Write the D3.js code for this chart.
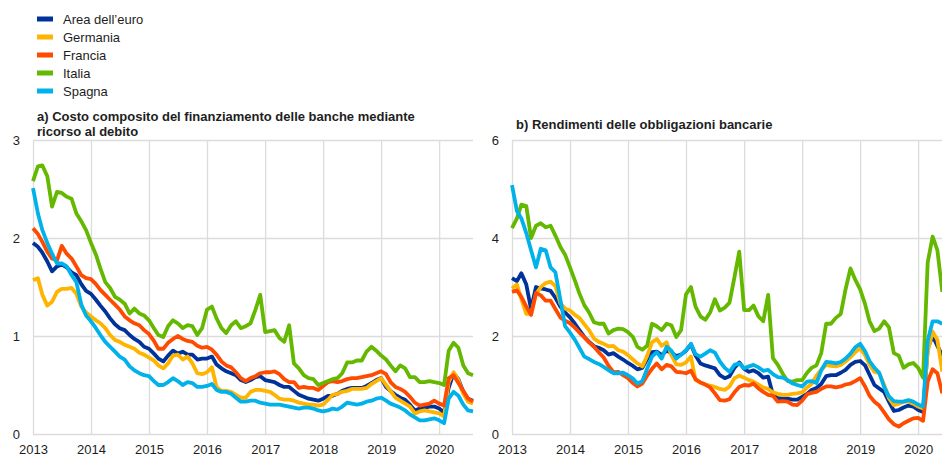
<!DOCTYPE html>
<html>
<head>
<meta charset="utf-8">
<script src="https://cdn.jsdelivr.net/npm/d3@7"></script>
<style>
  body { margin: 0; background: #fff; overflow: hidden; }
  svg { display: block; font-family: "Liberation Sans", Arial, sans-serif; }
</style>
</head>
<body>
<div id="chart"></div>
<script>
// series names / colours (legend order = drawing order)
var seriesNames = ["Area dell\u2019euro", "Germania", "Francia", "Italia", "Spagna"];
var seriesColors = ["#003299", "#ffb400", "#ff4b00", "#65b800", "#00b1ea"];
var yearTicks = [2013, 2014, 2015, 2016, 2017, 2018, 2019, 2020];
var ticksA = [0, 1, 2, 3];
var ticksB = [0, 2, 4, 6];
var titleA = ["a) Costo composito del finanziamento delle banche mediante", "ricorso al debito"];
var titleB = ["b) Rendimenti delle obbligazioni bancarie"];

// a) monthly, Jan 2013 - Aug 2020
var costoEuro = [1.95,1.91,1.85,1.76,1.66,1.71,1.73,1.70,1.65,1.62,1.53,1.46,
  1.43,1.37,1.31,1.25,1.18,1.12,1.08,1.06,1.01,0.97,0.94,0.89,
  0.87,0.82,0.77,0.74,0.80,0.85,0.82,0.84,0.81,0.81,0.76,0.77,
  0.77,0.79,0.71,0.67,0.64,0.62,0.60,0.55,0.53,0.55,0.58,0.59,
  0.55,0.54,0.53,0.50,0.48,0.48,0.44,0.40,0.38,0.36,0.35,0.34,
  0.36,0.39,0.39,0.41,0.44,0.46,0.47,0.47,0.47,0.49,0.52,0.55,
  0.57,0.48,0.44,0.40,0.37,0.35,0.30,0.24,0.26,0.27,0.28,0.28,
  0.26,0.22,0.47,0.62,0.56,0.43,0.36,0.34];
var costoGermania = [1.57,1.59,1.42,1.31,1.35,1.45,1.48,1.48,1.49,1.43,1.30,1.24,
  1.20,1.16,1.13,1.08,1.01,0.96,0.94,0.91,0.89,0.87,0.83,0.81,
  0.78,0.75,0.70,0.67,0.72,0.80,0.81,0.76,0.79,0.72,0.62,0.61,
  0.63,0.68,0.48,0.44,0.44,0.43,0.40,0.37,0.37,0.43,0.45,0.45,
  0.44,0.43,0.40,0.36,0.35,0.35,0.34,0.32,0.31,0.30,0.30,0.29,
  0.30,0.35,0.40,0.41,0.43,0.44,0.46,0.46,0.46,0.47,0.51,0.54,
  0.57,0.50,0.44,0.37,0.34,0.31,0.28,0.21,0.23,0.24,0.23,0.22,
  0.21,0.18,0.53,0.63,0.55,0.41,0.33,0.31];
var costoFrancia = [2.10,2.04,1.96,1.86,1.79,1.77,1.92,1.84,1.79,1.71,1.62,1.59,
  1.58,1.53,1.47,1.42,1.37,1.32,1.27,1.20,1.16,1.13,1.11,1.06,
  1.02,0.95,0.87,0.87,0.93,0.97,1.00,0.97,0.95,0.94,0.90,0.88,
  0.89,0.86,0.81,0.74,0.70,0.68,0.63,0.57,0.54,0.57,0.59,0.62,
  0.63,0.63,0.64,0.61,0.56,0.53,0.53,0.47,0.48,0.47,0.47,0.45,
  0.49,0.53,0.54,0.53,0.54,0.56,0.57,0.57,0.58,0.59,0.60,0.62,
  0.64,0.61,0.53,0.48,0.46,0.43,0.38,0.32,0.29,0.30,0.31,0.34,
  0.31,0.29,0.57,0.60,0.52,0.44,0.36,0.33];
var costoItalia = [2.58,2.73,2.74,2.63,2.32,2.47,2.46,2.42,2.40,2.25,2.17,2.08,
  1.95,1.83,1.69,1.55,1.49,1.40,1.37,1.33,1.23,1.28,1.23,1.21,
  1.16,1.08,1.01,0.99,1.10,1.16,1.13,1.08,1.11,1.10,1.01,1.08,
  1.27,1.30,1.18,1.08,1.03,1.11,1.15,1.08,1.10,1.13,1.27,1.42,
  1.04,1.05,1.06,0.98,0.94,1.11,0.72,0.67,0.60,0.57,0.56,0.50,
  0.52,0.54,0.56,0.57,0.62,0.73,0.73,0.75,0.75,0.84,0.89,0.85,
  0.80,0.76,0.70,0.64,0.70,0.67,0.58,0.58,0.53,0.53,0.54,0.53,
  0.52,0.50,0.85,0.93,0.88,0.70,0.62,0.60];
var costoSpagna = [2.51,2.25,2.08,1.95,1.84,1.74,1.74,1.71,1.62,1.55,1.32,1.21,
  1.15,1.08,1.01,0.94,0.89,0.84,0.79,0.76,0.69,0.65,0.62,0.60,
  0.59,0.54,0.50,0.50,0.53,0.57,0.54,0.50,0.53,0.52,0.48,0.48,
  0.49,0.51,0.45,0.43,0.43,0.41,0.37,0.33,0.33,0.34,0.34,0.32,
  0.31,0.30,0.30,0.30,0.29,0.28,0.27,0.26,0.27,0.27,0.26,0.24,
  0.23,0.24,0.26,0.25,0.28,0.32,0.31,0.30,0.31,0.33,0.34,0.36,
  0.37,0.34,0.31,0.29,0.27,0.24,0.20,0.17,0.14,0.14,0.15,0.16,
  0.14,0.11,0.36,0.43,0.39,0.30,0.24,0.23];

// b) monthly, Jan 2013 onwards (cut at right edge)
var rendEuro = [3.18,3.12,3.28,3.05,2.55,3.00,2.97,2.95,2.92,2.78,2.60,2.48,
  2.38,2.25,2.12,1.98,1.88,1.79,1.76,1.71,1.62,1.65,1.58,1.52,
  1.45,1.39,1.32,1.35,1.53,1.67,1.68,1.61,1.70,1.66,1.59,1.62,
  1.70,1.83,1.60,1.44,1.40,1.37,1.34,1.20,1.14,1.18,1.35,1.46,
  1.33,1.27,1.30,1.24,1.15,1.17,0.80,0.73,0.72,0.72,0.70,0.70,
  0.76,0.82,0.90,0.94,1.02,1.18,1.20,1.20,1.25,1.31,1.41,1.47,
  1.49,1.40,1.21,1.00,0.93,0.86,0.66,0.47,0.49,0.54,0.58,0.56,
  0.49,0.45,1.75,2.00,1.80,1.60];
var rendGermania = [2.97,3.05,2.75,2.45,2.45,2.85,3.00,3.08,3.11,3.02,2.67,2.56,
  2.52,2.43,2.37,2.24,2.12,1.95,1.88,1.84,1.79,1.80,1.71,1.68,
  1.61,1.52,1.44,1.38,1.59,1.87,1.94,1.80,1.87,1.61,1.42,1.41,
  1.46,1.58,1.10,1.05,1.01,0.99,0.96,0.92,0.90,0.97,1.14,1.19,
  1.15,1.10,1.07,1.01,0.95,0.92,0.85,0.82,0.80,0.80,0.82,0.83,
  0.85,0.95,1.02,1.19,1.31,1.41,1.39,1.38,1.41,1.48,1.57,1.67,
  1.75,1.61,1.41,1.27,1.24,1.00,0.73,0.59,0.62,0.66,0.66,0.62,
  0.56,0.52,1.68,2.09,1.92,1.27];
var rendFrancia = [2.90,2.93,2.80,2.60,2.43,2.88,2.83,2.72,2.72,2.55,2.38,2.31,
  2.26,2.17,2.07,1.97,1.87,1.78,1.67,1.56,1.39,1.26,1.27,1.20,
  1.14,1.04,0.97,1.03,1.19,1.33,1.44,1.32,1.41,1.38,1.27,1.26,
  1.24,1.29,1.12,1.05,1.01,0.95,0.83,0.69,0.68,0.71,0.85,0.96,
  1.00,0.99,1.03,0.93,0.86,0.80,0.78,0.66,0.67,0.66,0.60,0.59,
  0.68,0.81,0.84,0.86,0.92,0.97,0.97,0.95,0.97,1.01,1.03,1.08,
  1.14,0.97,0.78,0.66,0.58,0.44,0.30,0.20,0.15,0.22,0.27,0.32,
  0.33,0.27,1.07,1.32,1.24,0.83];
var rendItalia = [4.20,4.40,4.68,4.65,4.00,4.25,4.30,4.22,4.25,4.05,3.82,3.66,
  3.40,3.13,2.87,2.63,2.48,2.28,2.25,2.25,2.05,2.12,2.15,2.14,
  2.08,1.98,1.78,1.72,1.80,2.25,2.20,2.12,2.25,2.22,1.98,2.12,
  2.85,3.00,2.60,2.40,2.33,2.48,2.75,2.52,2.58,2.68,3.20,3.72,
  2.53,2.53,2.62,2.40,2.30,2.84,1.55,1.41,1.23,1.08,1.07,1.10,
  1.10,1.25,1.35,1.40,1.65,2.25,2.25,2.37,2.45,2.95,3.38,3.15,
  2.95,2.65,2.30,2.10,2.15,2.30,2.18,1.65,1.60,1.35,1.42,1.45,
  1.35,1.15,3.50,4.03,3.75,2.90];
var rendSpagna = [5.08,4.55,4.40,4.10,3.75,3.40,3.78,3.75,3.40,3.30,2.75,2.20,
  2.07,1.92,1.76,1.58,1.53,1.47,1.43,1.37,1.30,1.24,1.24,1.25,
  1.20,1.13,1.03,1.08,1.33,1.58,1.67,1.54,1.78,1.70,1.54,1.62,
  1.71,1.84,1.63,1.58,1.64,1.71,1.66,1.48,1.35,1.27,1.41,1.44,
  1.34,1.38,1.41,1.36,1.29,1.31,1.22,1.16,1.15,1.10,1.03,1.00,
  0.97,1.07,1.08,1.04,1.30,1.47,1.46,1.44,1.47,1.54,1.64,1.77,
  1.84,1.69,1.49,1.35,1.25,0.96,0.77,0.67,0.66,0.66,0.69,0.66,
  0.60,0.56,1.90,2.30,2.30,2.25];

var svgWidth = 942;
var svgHeight = 457;
var plotWidth = 440;
var plotHeight = 294;
var gridColor = "#dcdcdc";
var textColor = "#1e1e1e";

var months = d3.timeMonth.range(new Date(2013, 0, 1), new Date(2020, 8, 1));

var svg = d3.select("#chart")
  .append("svg")
  .attr("width", svgWidth)
  .attr("height", svgHeight);

//Legend
var legend = svg.selectAll(".legend")
  .data(seriesNames)
  .enter()
  .append("g")
  .attr("class", "legend")
  .attr("transform", function(d, i){
    return "translate(" + [37, 19 + i * 18] + ")";
  });
legend.append("rect")
  .attr("x", 0)
  .attr("y", -2.5)
  .attr("width", 16)
  .attr("height", 5)
  .style("fill", function(d, i){ return seriesColors[i]; });
legend.append("text")
  .attr("x", 26)
  .attr("y", 0)
  .attr("dy", "0.35em")
  .style("font-size", "13px")
  .style("fill", textColor)
  .text(function(d){ return d; });

function drawPanel(left, top, yMax, yTicks, title, seriesList){
  var x = d3.scaleTime()
    .domain([new Date(2013, 0, 1), new Date(2020, 7, 1)])
    .range([0, plotWidth]);
  var y = d3.scaleLinear()
    .domain([0, yMax])
    .range([plotHeight, 0]);

  var g = svg.append("g")
    .attr("transform", "translate(" + [left, top] + ")");

  // title
  g.append("text")
    .attr("x", 4)
    .attr("y", title.length > 1 ? -19 : -11.5)
    .style("font-size", "13px")
    .style("font-weight", "bold")
    .style("fill", textColor)
    .selectAll("tspan")
    .data(title)
    .enter()
    .append("tspan")
    .attr("x", 4)
    .attr("dy", function(d, i){ return i === 0 ? 0 : 15; })
    .text(function(d){ return d; });

  // grid + tick labels
  var yAxis = g.append("g")
    .call(d3.axisLeft(y).tickValues(yTicks).tickSize(-plotWidth).tickPadding(13).tickFormat(d3.format("d")));
  var xAxis = g.append("g")
    .attr("transform", "translate(0," + plotHeight + ")")
    .call(d3.axisBottom(x)
      .tickValues(yearTicks.map(function(d){ return new Date(d, 0, 1); }))
      .tickSize(-plotHeight).tickPadding(11)
      .tickFormat(d3.timeFormat("%Y")));
  [xAxis, yAxis].forEach(function(a){
    a.select(".domain").remove();
    a.selectAll(".tick line").attr("stroke", gridColor).attr("stroke-width", 1.3);
    a.selectAll(".tick text")
      .style("font-size", "13px")
      .style("font-family", "'Liberation Sans', Arial, sans-serif")
      .attr("fill", textColor);
  });

  var line = d3.line()
    .x(function(d, i){ return x(months[i]); })
    .y(function(d){ return y(d); });

  g.selectAll(".series")
    .data(seriesList)
    .enter()
    .append("path")
    .attr("class", "series")
    .attr("d", line)
    .attr("fill", "none")
    .attr("stroke", function(d, i){ return seriesColors[i]; })
    .attr("stroke-width", 3.8)
    .attr("stroke-linejoin", "round");
}

drawPanel(33, 140, 3, ticksA, titleA, [costoEuro, costoGermania, costoFrancia, costoItalia, costoSpagna]);
drawPanel(512, 140, 6, ticksB, titleB, [rendEuro, rendGermania, rendFrancia, rendItalia, rendSpagna]);
</script>
</body>
</html>
